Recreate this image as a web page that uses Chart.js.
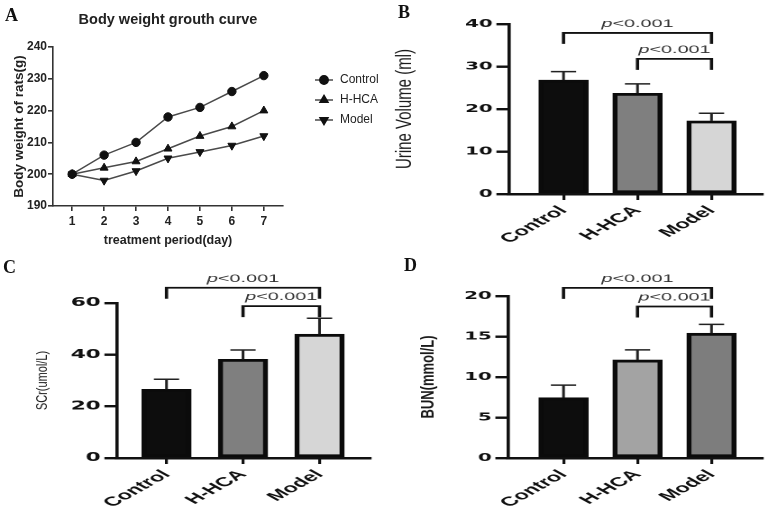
<!DOCTYPE html>
<html lang="en">
<head>
<meta charset="UTF-8">
<title>Body weight and renal indices</title>
<script src="https://cdn.jsdelivr.net/npm/chart.js@4.4.0/dist/chart.umd.min.js"></script>
<style>
  html, body { margin: 0; padding: 0; background: #fff; }
  #page { position: relative; width: 768px; height: 512px; overflow: hidden; background: #fff; }
  .panel { position: absolute; height: 256px; }
  /* panels B-D are drawn narrow and stretched, like the source figure */
  .stretch { width: 213px; transform: scaleX(1.80282); transform-origin: 0 0; }
  .tag { position: absolute; font: bold 18px "Liberation Serif", "Times New Roman", serif; line-height: 1; color: #111; }
</style>
</head>
<body>
<div id="page">
  <div class="panel" style="left:0;top:0;width:384px"><canvas id="chartA"></canvas></div>
  <div class="panel stretch" style="left:384px;top:0"><canvas id="chartB"></canvas></div>
  <div class="panel stretch" style="left:0;top:256px"><canvas id="chartC"></canvas></div>
  <div class="panel stretch" style="left:384px;top:256px"><canvas id="chartD"></canvas></div>
  <div class="tag" style="left:5px;top:6px">A</div>
  <div class="tag" style="left:398px;top:3px">B</div>
  <div class="tag" style="left:3px;top:258px">C</div>
  <div class="tag" style="left:404px;top:256px">D</div>
</div>
<script>
// panel A - body weight
const days = [1, 2, 3, 4, 5, 6, 7];
const weightControl = [200, 206, 210, 218, 221, 226, 231];
const weightHHCA = [200, 202, 204, 208, 212, 215, 220];
const weightModel = [200, 198, 201, 205, 207, 209, 212];
const weightTicks = [190, 200, 210, 220, 230, 240];

// panels B-D
const groups = ['Control', 'H-HCA', 'Model'];
const urineMean = [26.8, 23.7, 17.2];
const urineSd = [2.0, 2.2, 1.8];
const urineTicks = [0, 10, 20, 30, 40];
const scrMean = [26.6, 38.2, 47.9];
const scrSd = [3.9, 3.6, 6.2];
const scrTicks = [0, 20, 40, 60];
const bunMean = [7.45, 12.1, 15.4];
const bunSd = [1.55, 1.25, 1.1];
const bunTicks = [0, 5, 10, 15, 20];

// significance brackets: pairs of groups and the height of each bracket
const sigPairs = [[0, 2], [1, 2]];
const urineSig = [37.9, 31.8];
const scrSig = [65.9, 58.8];
const bunSig = [21.0, 18.7];

const S = 384 / 213;
const LIB = '"Liberation Sans", Arial, sans-serif';
const DEJ = '"DejaVu Sans", Verdana, sans-serif';
Chart.defaults.font.family = LIB;
Chart.defaults.color = '#222';

// legend for panel A: short line with the marker in the middle
const lineLegend = {
  id: 'lineLegend',
  afterDraw(chart) {
    const { ctx, chartArea } = chart;
    ctx.save();
    chart.data.datasets.forEach((ds, i) => {
      const x0 = chartArea.right + 32;
      const y0 = chartArea.top + 33 + i * 20;
      ctx.strokeStyle = ds.borderColor;
      ctx.lineWidth = 1.5;
      ctx.beginPath();
      ctx.moveTo(x0, y0);
      ctx.lineTo(x0 + 18, y0);
      ctx.stroke();
      ctx.fillStyle = '#111';
      ctx.strokeStyle = '#111';
      Chart.helpers.drawPoint(ctx, {
        pointStyle: ds.pointStyle, rotation: ds.pointRotation || 0,
        radius: ds.pointRadius, borderWidth: 1
      }, x0 + 9, y0);
      ctx.fillStyle = '#222';
      ctx.font = '12px ' + LIB;
      ctx.textAlign = 'left';
      ctx.textBaseline = 'middle';
      ctx.fillText(ds.label, x0 + 25, y0);
    });
    ctx.restore();
  }
};

new Chart(document.getElementById('chartA'), {
  type: 'line',
  data: {
    labels: days,
    datasets: [
      { label: 'Control', data: weightControl, pointStyle: 'circle', pointRadius: 4.2 },
      { label: 'H-HCA', data: weightHHCA, pointStyle: 'triangle', pointRadius: 4.6 },
      { label: 'Model', data: weightModel, pointStyle: 'triangle', pointRotation: 180, pointRadius: 4.6 }
    ].map(ds => Object.assign({
      borderColor: '#4a4a4a', borderWidth: 1.5, tension: 0,
      pointBackgroundColor: '#111', pointBorderColor: '#111', pointBorderWidth: 1
    }, ds))
  },
  options: {
    animation: false,
    responsive: true,
    maintainAspectRatio: false,
    events: [],
    layout: { padding: { top: 0, right: 101, bottom: 0, left: 0 } },
    plugins: {
      legend: { display: false },
      tooltip: { enabled: false },
      title: {
        display: true, text: 'Body weight grouth curve', fullSize: false, color: '#222',
        font: { size: 14.5, weight: 'bold' }, padding: { top: 11, bottom: 18.6 }
      }
    },
    scales: {
      x: {
        type: 'linear', min: 0.4, max: 7.6,
        afterBuildTicks: s => { s.ticks = days.map(v => ({ value: v })); },
        afterFit: s => { s.height = 50; },
        grid: { display: true, drawOnChartArea: false, drawTicks: true, tickLength: 5, color: '#333', lineWidth: 1.6 },
        border: { display: true, color: '#333', width: 1.6 },
        ticks: { padding: 3, color: '#222', font: { size: 12, weight: 'bold' } },
        title: { display: true, text: 'treatment period(day)', color: '#222', font: { size: 12.5, weight: 'bold' }, padding: { top: 0, bottom: 8 } }
      },
      y: {
        min: 190, max: 240,
        afterBuildTicks: s => { s.ticks = weightTicks.map(v => ({ value: v })); },
        afterFit: s => { s.width = 53; },
        grid: { display: true, drawOnChartArea: false, drawTicks: true, tickLength: 5, color: '#333', lineWidth: 1.6 },
        border: { display: true, color: '#333', width: 1.6 },
        ticks: { padding: 1, color: '#222', font: { size: 12, weight: 'bold' } },
        title: { display: true, text: 'Body weight of rats(g)', color: '#222', font: { size: 13.5, weight: 'bold' }, padding: { top: 11 } }
      }
    }
  },
  plugins: [lineLegend]
});

function errorBars(means, sds) {
  return {
    id: 'errorBars',
    afterDatasetsDraw(chart) {
      const { ctx } = chart;
      const y = chart.scales.y;
      ctx.save();
      ctx.strokeStyle = '#222';
      ctx.lineWidth = 1.5;
      chart.getDatasetMeta(0).data.forEach((bar, i) => {
        const top = y.getPixelForValue(means[i] + sds[i]);
        ctx.beginPath();
        ctx.moveTo(bar.x, bar.y);
        ctx.lineTo(bar.x, top);
        ctx.moveTo(bar.x - 7, top);
        ctx.lineTo(bar.x + 7, top);
        ctx.stroke();
      });
      ctx.restore();
    }
  };
}

function sigBrackets(levels) {
  return {
    id: 'sigBrackets',
    afterDraw(chart) {
      const { ctx } = chart;
      const { x, y } = chart.scales;
      ctx.save();
      ctx.strokeStyle = '#111';
      ctx.fillStyle = '#333';
      ctx.lineWidth = 1.8;
      sigPairs.forEach(([a, b], k) => {
        const x1 = x.getPixelForValue(a + 1);
        const x2 = x.getPixelForValue(b + 1);
        const yy = y.getPixelForValue(levels[k]);
        ctx.beginPath();
        ctx.moveTo(x1, yy + 11);
        ctx.lineTo(x1, yy);
        ctx.lineTo(x2, yy);
        ctx.lineTo(x2, yy + 11);
        ctx.stroke();
        // "p<0.001" with an italic p
        ctx.font = 'italic 11px ' + LIB;
        const w1 = ctx.measureText('p').width;
        ctx.font = '11px ' + LIB;
        const w2 = ctx.measureText('<0.001').width;
        const sx = (x1 + x2) / 2 - (w1 + w2) / 2;
        const ty = yy - 9;
        ctx.textAlign = 'left';
        ctx.textBaseline = 'middle';
        ctx.font = 'italic 11px ' + LIB;
        ctx.fillText('p', sx, ty);
        ctx.font = '11px ' + LIB;
        ctx.fillText('<0.001', sx + w1, ty);
      });
      ctx.restore();
    }
  };
}

// axis title drawn narrower so the stretch does not widen it too much
function yTitle(text, font, xImg) {
  return {
    id: 'yTitle',
    afterDraw(chart) {
      const { ctx, chartArea } = chart;
      ctx.save();
      ctx.translate(xImg / S, (chartArea.top + chartArea.bottom) / 2);
      ctx.rotate(-Math.PI / 2);
      ctx.scale(1, 1 / 1.3);
      ctx.font = font;
      ctx.fillStyle = '#1a1a1a';
      ctx.textAlign = 'center';
      ctx.textBaseline = 'middle';
      ctx.fillText(text, 0, 0);
      ctx.restore();
    }
  };
}

function barChart(id, cfg) {
  const unit = (cfg.lastX - cfg.firstX) / 2;
  const xMin = 1 - (cfg.firstX - cfg.axisX) / unit;
  const xMax = 3 + (cfg.rightX - cfg.lastX) / unit;
  const axisLine = { display: true, drawOnChartArea: false, drawTicks: true, color: '#111' };
  return new Chart(document.getElementById(id), {
    type: 'bar',
    data: {
      datasets: [{
        data: cfg.means.map((m, i) => ({ x: i + 1, y: m })),
        backgroundColor: cfg.colors,
        borderColor: '#0b0b0b',
        borderWidth: 2.8,
        borderSkipped: false,
        barThickness: cfg.barW / S
      }]
    },
    options: {
      animation: false,
      responsive: true,
      maintainAspectRatio: false,
      devicePixelRatio: 2,
      events: [],
      layout: { padding: { top: cfg.top, right: (384 - cfg.rightX) / S, bottom: 0, left: 0 } },
      plugins: { legend: { display: false }, tooltip: { enabled: false } },
      scales: {
        x: {
          type: 'linear', min: xMin, max: xMax, offset: false,
          afterBuildTicks: s => { s.ticks = groups.map((g, i) => ({ value: i + 1 })); },
          afterFit: s => { s.height = 256 - cfg.bottom; },
          grid: Object.assign({ tickLength: 6, lineWidth: 1.6, offset: false }, axisLine),
          border: { display: true, color: '#111', width: 2.5 },
          ticks: {
            autoSkip: false, minRotation: 45, maxRotation: 45, padding: 3, color: '#111',
            font: { family: LIB, size: 13, weight: 'bold' },
            callback: v => groups[v - 1]
          }
        },
        y: {
          min: 0, max: cfg.ticks[cfg.ticks.length - 1],
          afterBuildTicks: s => { s.ticks = cfg.ticks.map(v => ({ value: v })); },
          afterFit: s => { s.width = cfg.axisX / S; },
          grid: Object.assign({ tickLength: 7, lineWidth: 2.4 }, axisLine),
          border: { display: true, color: '#111', width: 1.8 },
          ticks: { padding: 2, color: '#111', font: { family: DEJ, size: cfg.tickSize, weight: 'bold' } }
        }
      }
    },
    plugins: [errorBars(cfg.means, cfg.sds), sigBrackets(cfg.sig), yTitle(cfg.title, cfg.titleFont, cfg.titleX)]
  });
}

barChart('chartB', {
  means: urineMean, sds: urineSd, ticks: urineTicks, sig: urineSig,
  colors: ['#0d0d0d', '#7f7f7f', '#d6d6d6'],
  title: 'Urine Volume (ml)', titleFont: '15px ' + LIB, titleX: 21,
  axisX: 125, rightX: 378, top: 24, bottom: 194, firstX: 179.5, lastX: 327.5, barW: 49, tickSize: 11
});

barChart('chartC', {
  means: scrMean, sds: scrSd, ticks: scrTicks, sig: scrSig,
  colors: ['#0d0d0d', '#7f7f7f', '#d6d6d6'],
  title: 'SCr(umol/L)', titleFont: '11px ' + LIB, titleX: 43,
  axisX: 117, rightX: 370, top: 47, bottom: 202, firstX: 166.5, lastX: 319.5, barW: 49, tickSize: 12
});

barChart('chartD', {
  means: bunMean, sds: bunSd, ticks: bunTicks, sig: bunSig,
  colors: ['#0d0d0d', '#a3a3a3', '#7d7d7d'],
  title: 'BUN(mmol/L)', titleFont: 'bold 13px ' + LIB, titleX: 45,
  axisX: 124, rightX: 378, top: 40, bottom: 202, firstX: 179.5, lastX: 327.5, barW: 49, tickSize: 11
});
</script>
</body>
</html>
